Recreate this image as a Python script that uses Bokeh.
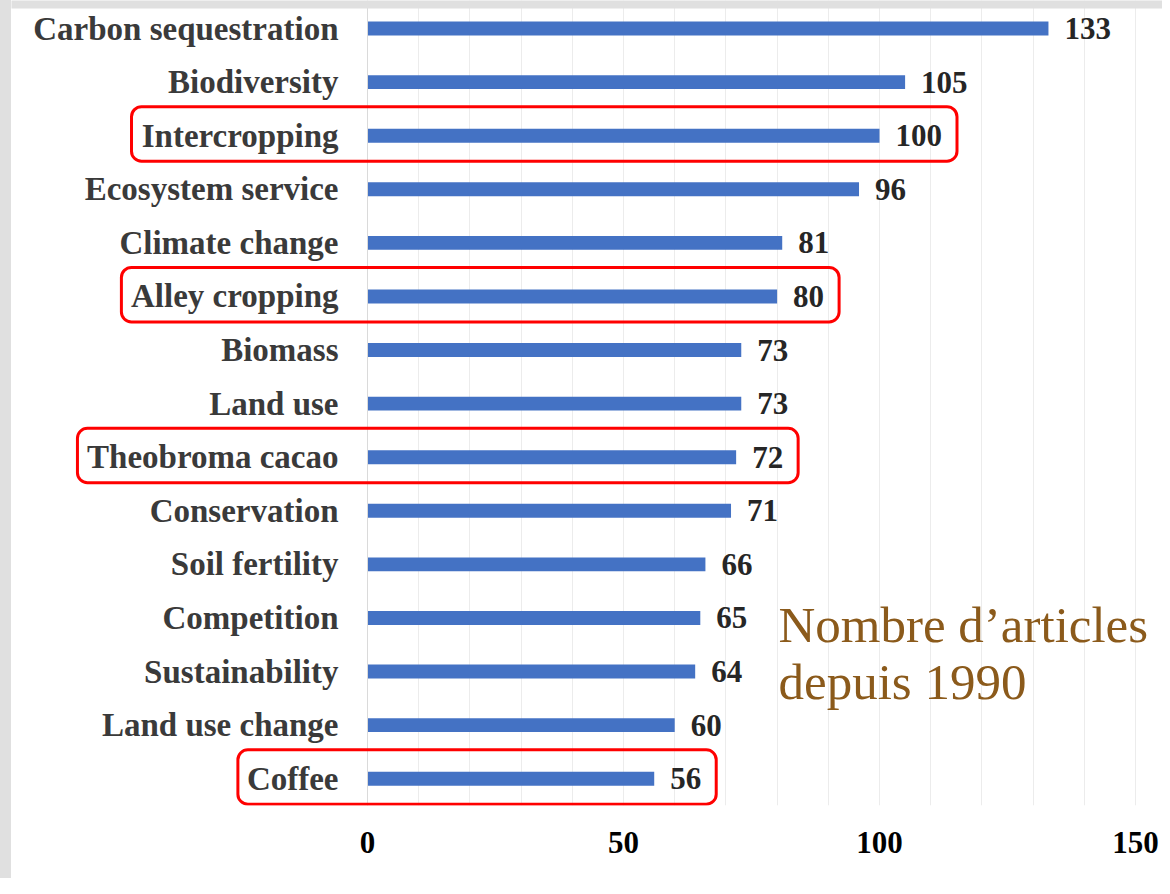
from bokeh.plotting import figure
from bokeh.models import ColumnDataSource, FixedTicker, BoxAnnotation, Span, Spacer
from bokeh.layouts import row
from bokeh.core.properties import value
from bokeh.embed import file_html
from bokeh.resources import INLINE

# ---- data ----
categories = ["Carbon sequestration", "Biodiversity", "Intercropping", "Ecosystem service",
              "Climate change", "Alley cropping", "Biomass", "Land use", "Theobroma cacao",
              "Conservation", "Soil fertility", "Competition", "Sustainability",
              "Land use change", "Coffee"]
counts = [133, 105, 100, 96, 81, 80, 73, 73, 72, 71, 66, 65, 64, 60, 56]
highlighted = ["Intercropping", "Alley cropping", "Theobroma cacao", "Coffee"]
x_ticks = [0, 50, 100, 150]
note_lines = ["Nombre d\u2019articles", "depuis 1990"]

# ---- layout ----
n = len(categories)
ypos = [n - 1 - i for i in range(n)]
STRIP = 11                      # grey page strip on the left
FRAME_W, FRAME_H = 1162 - STRIP, 805
PXU = 5.12                      # px per count unit
X0 = -(367 - STRIP) / PXU
X1 = X0 + FRAME_W / PXU
Y1 = n - 1 + 28 / 53.57
Y0 = -0.5
pxu = PXU
pxy = FRAME_H / (Y1 - Y0)

SERIF = "Liberation Serif"
CAT_SIZE = 33
VAL_SIZE = 31
CAT_OFF = 29
VAL_OFF = 16
GREY = "#e0e0e0"

p = figure(frame_width=FRAME_W, frame_height=FRAME_H, x_range=(X0, X1), y_range=(Y0, Y1),
           output_backend="svg", toolbar_location=None, min_border=0, min_border_bottom=73)
p.outline_line_color = None
p.background_fill_color = "white"
p.border_fill_color = "white"
p.yaxis.visible = False
p.ygrid.visible = False

p.xaxis.ticker = FixedTicker(ticks=x_ticks)
p.xaxis.axis_line_color = None
p.xaxis.major_tick_line_color = None
p.xaxis.minor_tick_line_color = None
p.xaxis.major_label_text_font = SERIF
p.xaxis.major_label_text_font_style = "bold"
p.xaxis.major_label_text_font_size = "31px"
p.xaxis.major_label_text_color = "black"
p.xaxis.major_label_standoff = 20

p.xgrid.ticker = FixedTicker(ticks=list(range(0, 151, 10)))
p.xgrid.grid_line_color = "#ececec"
p.xgrid.grid_line_width = 1
p.add_layout(Span(location=0, dimension="height", line_color="#dadada", line_width=1))

src = ColumnDataSource(dict(y=ypos, count=counts, cat=categories,
                            label=[str(c) for c in counts]))

p.hbar(y="y", left=0, right="count", height=0.26, source=src,
       fill_color="#4472C4", line_color=None)

p.text(x="count", y="y", text="label", source=src, x_offset=VAL_OFF,
       text_align="left", text_baseline="middle", text_font=value(SERIF),
       text_font_style="bold", text_font_size=f"{VAL_SIZE}px", text_color="#262626")

p.text(x=0, y="y", text="cat", source=src, x_offset=-CAT_OFF,
       text_align="right", text_baseline="middle", text_font=value(SERIF),
       text_font_style="bold", text_font_size=f"{CAT_SIZE}px", text_color="#3a3a3a")

# approximate Liberation Serif Bold advance widths (em/1000)
W = {"A": 722, "C": 722, "I": 389, "T": 667, "a": 500, "b": 556, "c": 444, "e": 444,
     "f": 333, "g": 500, "h": 556, "i": 278, "l": 278, "m": 833, "n": 556, "o": 500,
     "p": 556, "r": 444, "t": 333, "y": 500, " ": 250}

def text_px(s, size):
    return sum(W.get(ch, 500) for ch in s) / 1000 * size

for c in highlighted:
    i = categories.index(c)
    yc = ypos[i]
    left = -(CAT_OFF + text_px(c, CAT_SIZE) + 9) / pxu
    right = counts[i] + (VAL_OFF + len(str(counts[i])) * 0.5 * VAL_SIZE + 15) / pxu
    p.add_layout(BoxAnnotation(left=left, right=right, bottom=yc - 0.475, top=yc + 0.54,
                               fill_alpha=0, fill_color=None, line_color="#ff0000",
                               line_alpha=1.0, line_width=3, border_radius=10))

# grey page strip along the top edge
p.add_layout(BoxAnnotation(left=X0 - 5, right=X1 + 5, bottom=Y1 - 8 / pxy, top=Y1 + 5,
                           fill_color=GREY, fill_alpha=1, line_color=None))

# note text
note_x = X0 + (778 - STRIP) / pxu
for k, line in enumerate(note_lines):
    yb = Y1 - (624 + k * 57) / pxy
    p.text(x=[note_x], y=[yb], text=[line], text_align="left", text_baseline="alphabetic",
           text_font=value(SERIF), text_font_size="51px", text_color="#8B5A1B")

strip = Spacer(width=STRIP, height=FRAME_H + 73, styles={"background-color": GREY})
layout = row(strip, p, spacing=0)

open("out.html", "w").write(file_html(layout, INLINE))
